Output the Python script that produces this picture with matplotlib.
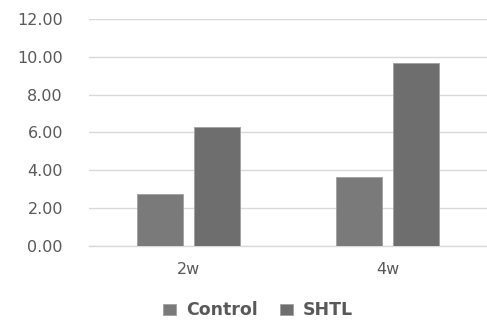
import matplotlib.pyplot as plt
import numpy as np

categories = ["2w", "4w"]
control = [2.73, 3.64]
shtl = [6.30, 9.68]
yticks = [0, 2, 4, 6, 8, 10, 12]

plt.rcParams['font.family'] = ['DejaVu Sans']

fig = plt.figure(figsize=(4.87, 3.22), dpi=100)
ax = fig.add_axes([89/487, 1-245.7/322, 1-89/487, 226.7/322])

x = np.arange(len(categories))
w = 0.23
ax.bar(x - 0.143, control, w, color='#7a7a7a', edgecolor='#a0a0a0', linewidth=0.6, label='Control', zorder=3)
ax.bar(x + 0.143, shtl, w, color='#6e6e6e', edgecolor='#a0a0a0', linewidth=0.6, label='SHTL', zorder=3)

ax.set_xlim(-0.5, 1.5)
ax.set_ylim(0, 12)
ax.set_yticks(yticks)
ax.set_yticklabels(["%.2f" % v for v in yticks], fontsize=11.5, color='#595959')
ax.set_xticks(x)
ax.set_xticklabels(categories, fontsize=11.5, color='#595959')
ax.tick_params(axis='both', length=0)
ax.tick_params(axis='y', pad=18.8)
ax.tick_params(axis='x', pad=12)
ax.yaxis.grid(True, color='#d9d9d9', linewidth=1.0, zorder=0)
for s in ['left', 'right', 'top']:
    ax.spines[s].set_visible(False)
ax.spines['bottom'].set_color('#d9d9d9')
ax.spines['bottom'].set_linewidth(1.0)

leg = ax.legend(loc='center', bbox_to_anchor=(0.425, -0.285), ncol=2, frameon=False,
                handlelength=0.75, handleheight=0.57, handletextpad=0.55, columnspacing=1.3,
                prop={'size': 12.5, 'weight': 'bold'})
for t in leg.get_texts():
    t.set_color('#595959')

plt.savefig("out.png", dpi=100)
